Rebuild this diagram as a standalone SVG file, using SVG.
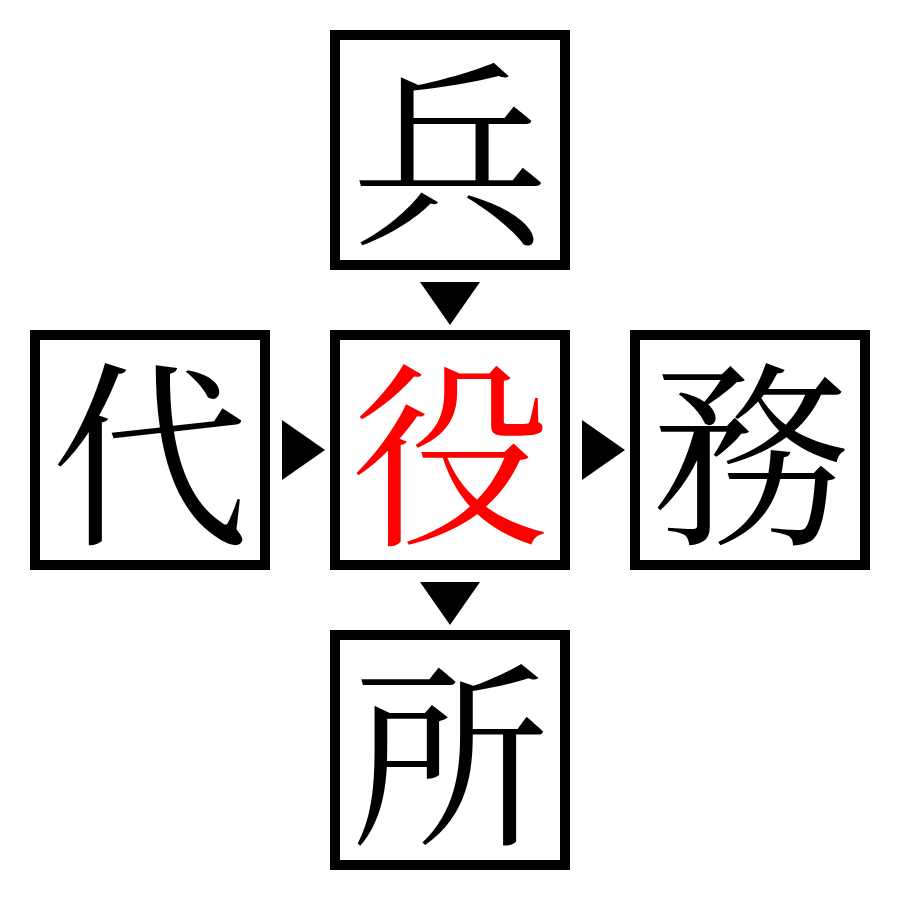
<svg xmlns="http://www.w3.org/2000/svg" width="900" height="900" viewBox="0 0 900 900">
<style>
.box{fill:#fff;stroke:#000;stroke-width:10}
.ch{font-family:"Noto Serif CJK JP","Noto Sans CJK JP",serif;font-size:198px;text-anchor:middle;dominant-baseline:central;fill:#000}
.red{fill:#ff0000}
.arr{fill:#000}
</style>
<rect width="900" height="900" fill="#fff"/>
<g id="connectors">
<polygon class="arr" points="420,282 480,282 450,325"/>
<polygon class="arr" points="282,420 282,480 325,450"/>
<polygon class="arr" points="582,420 582,480 625,450"/>
<polygon class="arr" points="420,582 480,582 450,625"/>
</g>
<g id="node-top"><rect class="box" x="335" y="35" width="230" height="230"/><text class="ch" x="450" y="143">兵</text></g>
<g id="node-left"><rect class="box" x="35" y="335" width="230" height="230"/><text class="ch" x="150" y="443">代</text></g>
<g id="node-center"><rect class="box" x="335" y="335" width="230" height="230"/><text class="ch red" x="450" y="443">役</text></g>
<g id="node-right"><rect class="box" x="635" y="335" width="230" height="230"/><text class="ch" x="750" y="443">務</text></g>
<g id="node-bottom"><rect class="box" x="335" y="635" width="230" height="230"/><text class="ch" x="450" y="743">所</text></g>
</svg>
